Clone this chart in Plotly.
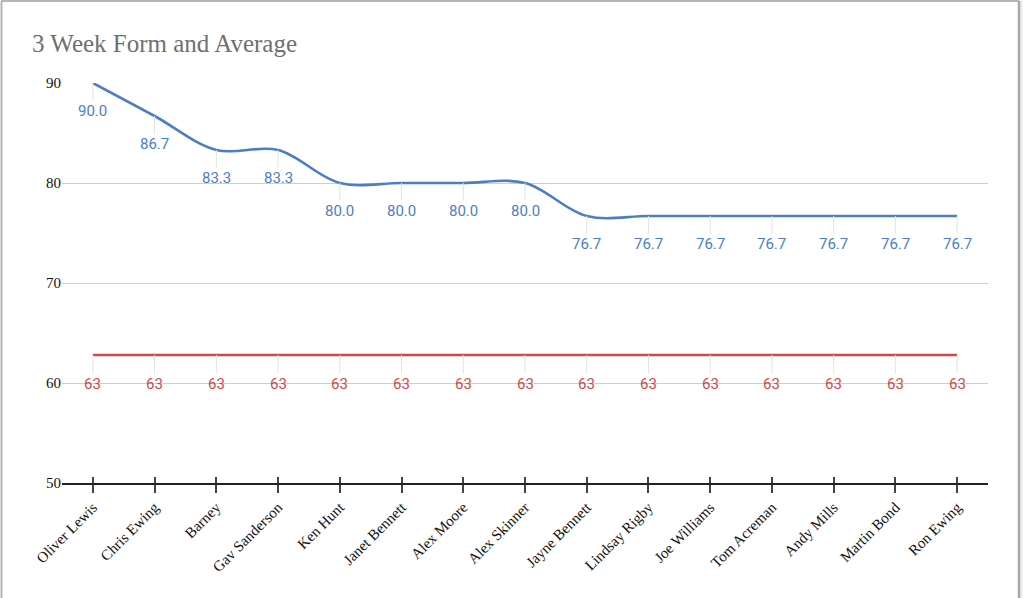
import plotly.graph_objects as go

players = ["Oliver Lewis", "Chris Ewing", "Barney", "Gav Sanderson", "Ken Hunt",
           "Janet Bennett", "Alex Moore", "Alex Skinner", "Jayne Bennett",
           "Lindsay Rigby", "Joe Williams", "Tom Acreman", "Andy Mills",
           "Martin Bond", "Ron Ewing"]
form = [90.0, 86.7, 83.3, 83.3, 80.0, 80.0, 80.0, 80.0, 76.7, 76.7, 76.7, 76.7, 76.7, 76.7, 76.7]
average = [62.8] * 15
y_ticks = [50, 60, 70, 80, 90]

BLUE = "#4c7ec3"
RED = "#cc4a4a"

W, H = 1023, 598
ML, MR, MT, MB = 62, 35, 83, 115
PW, PH = W - ML - MR, H - MT - MB

def px_x(p):
    return (p - ML) / PW

def px_y(p):
    return (H - MB - p) / PH

fig = go.Figure()
fig.add_trace(go.Scatter(x=players, y=form, mode="lines",
                         line=dict(color=BLUE, width=2.6, shape="spline", smoothing=1),
                         name="Form", hoverinfo="x+y"))
fig.add_trace(go.Scatter(x=players, y=average, mode="lines",
                         line=dict(color=RED, width=2.6),
                         name="Average", hoverinfo="x+y"))
# invisible helper trace so the overlay axis draws its inner tick stubs
fig.add_trace(go.Scatter(x=players, y=average, mode="lines", xaxis="x2",
                         line=dict(color="rgba(0,0,0,0)", width=0),
                         hoverinfo="skip", showlegend=False))

annotations = []
for p, v in zip(players, form):
    annotations.append(dict(x=p, y=v, xref="x", yref="y", text=f"{v:.1f}",
                            showarrow=True, ax=0, ay=28, arrowhead=0, arrowwidth=1,
                            arrowcolor="#e2e2e2", standoff=0,
                            font=dict(family="Roboto, Arial, sans-serif", size=15, color=BLUE)))
for p, v in zip(players, average):
    annotations.append(dict(x=p, y=v, xref="x", yref="y", text=f"{v:.0f}",
                            showarrow=True, ax=0, ay=29, arrowhead=0, arrowwidth=1,
                            arrowcolor="#e2e2e2", standoff=0,
                            font=dict(family="Roboto, Arial, sans-serif", size=15, color=RED)))

shapes = [
    # chart frame
    dict(type="line", xref="paper", yref="paper", x0=px_x(1.5), x1=px_x(1.5),
         y0=px_y(598), y1=px_y(1), line=dict(color="#b5b5b5", width=2)),
    dict(type="line", xref="paper", yref="paper", x0=px_x(1), x1=px_x(1019),
         y0=px_y(1), y1=px_y(1), line=dict(color="#b5b5b5", width=2)),
    dict(type="rect", xref="paper", yref="paper", x0=px_x(1020), x1=px_x(1024),
         y0=px_y(598), y1=px_y(0), line=dict(width=0), fillcolor="#f1f1f1"),
    dict(type="line", xref="paper", yref="paper", x0=px_x(1019), x1=px_x(1019),
         y0=px_y(598), y1=px_y(1), line=dict(color="#a8a8a8", width=2.5)),
]

tick_font = dict(family="Liberation Serif, Times New Roman, serif", size=15, color="#111")

fig.update_layout(
    width=W, height=H,
    margin=dict(l=ML, r=MR, t=MT, b=MB, autoexpand=False),
    paper_bgcolor="white", plot_bgcolor="white",
    showlegend=False,
    title=dict(text="3 Week Form and Average", xref="container", yref="container",
               x=32 / W, xanchor="left", y=1 - 43 / H, yanchor="middle",
               font=dict(family="Liberation Serif, Times New Roman, serif", size=25, color="#6f6f6f")),
    annotations=annotations,
    shapes=shapes,
    xaxis=dict(type="category", range=[-0.5, 14.5], showgrid=False,
               showline=True, linecolor="#222", linewidth=1.5,
               ticks="outside", ticklen=8, tickwidth=1.5, tickcolor="#444",
               tickangle=-45, tickfont=tick_font),
    xaxis2=dict(type="category", range=[-0.5, 14.5], overlaying="x", anchor="y",
                side="bottom", showgrid=False, showline=False,
                ticks="inside", ticklen=6, tickwidth=1.5, tickcolor="#444",
                showticklabels=False),
    yaxis=dict(range=[50, 90], tickvals=y_ticks, showgrid=True, gridcolor="#cfcfcf",
               gridwidth=1, zeroline=False, showline=False, ticks="",
               tickfont=tick_font),
)

fig.write_html("out.html", config={"displayModeBar": False},
               post_script="document.body.style.margin='0px';document.body.style.padding='0px';")
